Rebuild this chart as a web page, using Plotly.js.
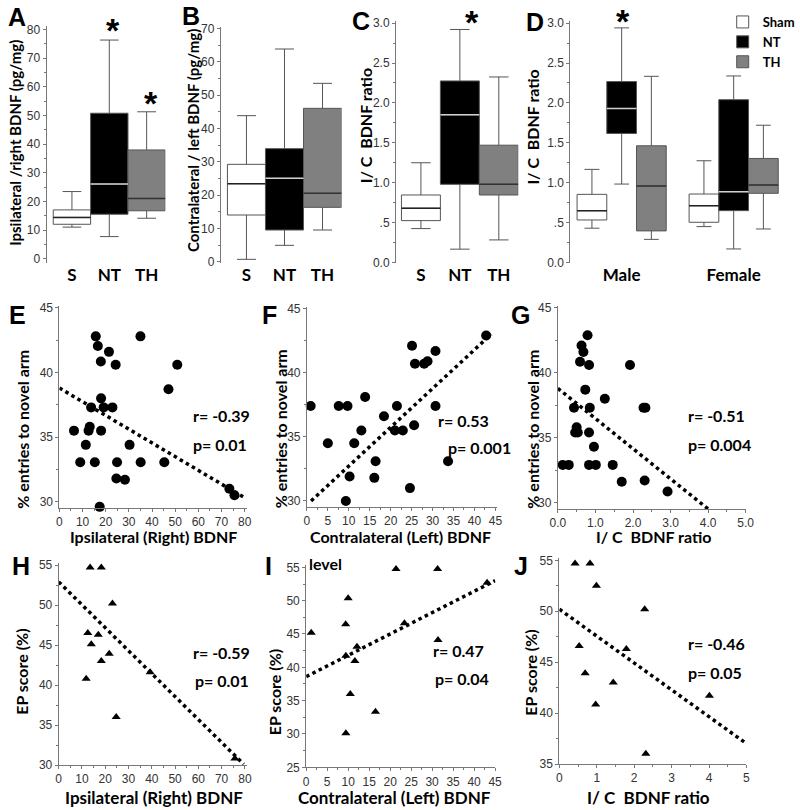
<!DOCTYPE html>
<html><head><meta charset="utf-8">
<script src="https://cdn.plot.ly/plotly-3.0.1.min.js"></script>
<style>html,body{margin:0;padding:0;background:#fff}#chart{width:800px;height:810px}</style>
</head><body><div id="chart"></div>
<script>
// ---------------- DATA ----------------
const boxCategories = ["S", "NT", "TH"];
// Panel A: Ipsilateral / right BDNF (pg/mg)
const A_lower  = [11.1, 7.8, 14.2];
const A_q1     = [12.1, 15.6, 16.8];
const A_median = [14.5, 26.1, 21.1];
const A_q3     = [17.1, 50.8, 38.0];
const A_upper  = [23.5, 76.3, 51.3];
// Panel B: Contralateral / left BDNF (pg/mg)
const B_lower  = [0.7, 4.9, 9.5];
const B_q1     = [14.0, 9.5, 16.3];
const B_median = [23.4, 25.0, 20.5];
const B_q3     = [29.2, 33.9, 46.0];
const B_upper  = [43.8, 63.8, 53.5];
// Panel C: I/C BDNF ratio
const C_lower  = [0.425, 0.167, 0.283];
const C_q1     = [0.525, 0.98, 0.846];
const C_median = [0.68, 1.85, 0.98];
const C_q3     = [0.846, 2.275, 1.47];
const C_upper  = [1.25, 2.92, 2.325];
// Panel D: I/C BDNF ratio by sex
const D_groups = ["Male", "Female"];
const D_series = ["Sham", "NT", "TH"];
const D_sham_lower = [0.43, 0.45],  D_sham_q1 = [0.533, 0.504], D_sham_median = [0.65, 0.7125], D_sham_q3 = [0.854, 0.858], D_sham_upper = [1.167, 1.275];
const D_nt_lower   = [0.983, 0.17], D_nt_q1   = [1.617, 0.65],  D_nt_median   = [1.93, 0.8875], D_nt_q3   = [2.267, 2.04],  D_nt_upper   = [2.94, 2.3375];
const D_th_lower   = [0.29, 0.42],  D_th_q1   = [0.396, 0.867], D_th_median   = [0.958, 0.97],  D_th_q3   = [1.4625, 1.304], D_th_upper  = [2.333, 1.72];

// Panel E: % entries to novel arm vs Ipsilateral (Right) BDNF
const E_x = [15.7,16.6,21.4,17.9,24.3,35,50.9,47.1,18,13.7,19.1,22.9,6.3,12.6,13.1,18,11.4,30.3,9,15.3,24.9,35.1,45.3,24.6,28.3,73.4,75.6,17.4];
const E_y = [42.8,42.05,41.6,40.85,40.6,42.8,40.6,38.7,38.0,37.3,37.3,37.3,35.5,35.5,35.8,35.5,34.4,34.4,33.05,33.05,33.05,33.05,33.05,31.8,31.7,31.0,30.5,29.6];
const E_fit_x = [0, 80], E_fit_y = [38.8, 30.3];
// Panel F: vs Contralateral (Left) BDNF
const F_x = [0.9,5.0,7.6,9.7,13.9,13.0,11.3,10.2,9.3,16.4,16.1,18.4,21.5,21.0,22.9,25.6,24.6,25.1,25.8,28.0,28.8,30.7,30.7,33.7,42.8];
const F_y = [37.4,34.5,37.4,37.4,38.1,35.5,34.5,31.9,30.0,33.1,31.8,36.6,37.4,35.5,35.5,35.9,31.0,42.1,40.7,40.7,40.9,41.7,37.4,33.1,42.9];
const F_fit_x = [1, 44], F_fit_y = [30.0, 43.0];
// Panel G: vs I/C BDNF ratio
const G_x = [0.79,0.63,0.68,0.59,0.83,1.92,0.73,1.25,0.43,0.85,2.28,2.33,0.5,0.46,0.53,0.83,0.96,0.13,0.29,0.83,1.01,1.46,1.70,2.31,2.92];
const G_y = [42.9,42.1,41.6,40.85,40.6,40.6,38.7,38.0,37.3,37.3,37.3,37.3,35.8,35.4,35.4,35.4,34.3,32.9,32.9,32.9,32.9,32.9,31.6,31.7,30.85];
const G_fit_x = [0, 4.0], G_fit_y = [38.8, 29.5];
// Panel H: EP score (%) vs Ipsilateral (Right) BDNF
const H_x = [13.5,18.3,23.1,12.5,17.0,14.0,21.7,18.3,11.8,24.7,39.3,75.7];
const H_y = [54.7,54.7,50.2,46.5,46.3,45.1,43.9,43.0,40.8,36.0,41.6,30.8];
const H_fit_x = [0, 79.5], H_fit_y = [52.9, 30.1];
// Panel I: EP score (%) vs Contralateral (Left) BDNF
const I_x = [1.2,9.4,10.0,9.45,12.1,11.6,10.5,9.45,16.5,21.4,31.3,23.4,31.4,43.1];
const I_y = [45.2,46.45,50.35,41.75,43.1,40.95,36.0,30.1,33.35,54.75,54.75,46.6,44.1,52.7];
const I_fit_x = [0, 45], I_fit_y = [38.6, 53.0];
// Panel J: EP score (%) vs I/C BDNF ratio
const J_x = [0.42,0.82,0.99,2.28,0.53,1.79,0.69,1.44,0.97,4.01,2.31];
const J_y = [54.7,54.7,52.5,50.2,46.6,46.3,43.9,43.0,40.85,41.7,36.0];
const J_fit_x = [0, 5], J_fit_y = [50.2, 37.0];

// ---------------- HELPERS ----------------
const W = 800, H = 810;
const px = x => x / W, py = y => 1 - y / H;
const fills = ['#ffffff', '#000000', '#808080'];
const medColors = ['#222222', '#d0d0d0', '#333333'];
const whisker = '#555555';
const tickFont = {family: 'Liberation Sans, Arial, sans-serif', size: 12, color: '#333'};
const boldFam = 'Lato, "Open Sans", sans-serif';
const traces = [];

function addBoxes(n, positions, stats, names, showLegend) {
  stats.forEach((s, k) => {
    traces.push({
      type: 'box', xaxis: 'x' + n, yaxis: 'y' + n, name: names[k],
      x: positions[k], lowerfence: s.lo, q1: s.q1, median: s.med, q3: s.q3, upperfence: s.hi,
      width: 1, whiskerwidth: 0.5, fillcolor: fills[k],
      line: {color: whisker, width: 1}, boxpoints: false, hoverinfo: 'skip',
      showlegend: showLegend, legendgroup: names[k]
    });
  });
  stats.forEach((s, k) => {
    const mx = [], my = [];
    positions[k].forEach((p, i) => { mx.push(p - 0.5, p + 0.5, null); my.push(s.med[i], s.med[i], null); });
    traces.push({type: 'scatter', mode: 'lines', xaxis: 'x' + n, yaxis: 'y' + n, x: mx, y: my,
      line: {color: medColors[k], width: 1.5}, showlegend: false, hoverinfo: 'skip'});
  });
}

function addScatter(n, xs, ys, fx, fy, symbol, size) {
  traces.push({type: 'scatter', mode: 'lines', xaxis: 'x' + n, yaxis: 'y' + n, x: fx, y: fy,
    line: {color: '#000', width: 3.5, dash: 'dot'}, showlegend: false, hoverinfo: 'skip'});
  traces.push({type: 'scatter', mode: 'markers', xaxis: 'x' + n, yaxis: 'y' + n, x: xs, y: ys,
    marker: {symbol: symbol, size: size, color: '#000'}, showlegend: false, hoverinfo: 'skip', cliponaxis: false});
}

const idx3 = [[0], [1], [2]];
addBoxes('', idx3, [0,1,2].map(i => ({lo:[A_lower[i]], q1:[A_q1[i]], med:[A_median[i]], q3:[A_q3[i]], hi:[A_upper[i]]})), boxCategories, false);
addBoxes('2', idx3, [0,1,2].map(i => ({lo:[B_lower[i]], q1:[B_q1[i]], med:[B_median[i]], q3:[B_q3[i]], hi:[B_upper[i]]})), boxCategories, false);
addBoxes('3', idx3, [0,1,2].map(i => ({lo:[C_lower[i]], q1:[C_q1[i]], med:[C_median[i]], q3:[C_q3[i]], hi:[C_upper[i]]})), boxCategories, false);
const groupCenters = [1, 4.77];
const dPos = [0,1,2].map(k => groupCenters.map(c => c + (k - 1)));
addBoxes('4', dPos, [
  {lo: D_sham_lower, q1: D_sham_q1, med: D_sham_median, q3: D_sham_q3, hi: D_sham_upper},
  {lo: D_nt_lower,   q1: D_nt_q1,   med: D_nt_median,   q3: D_nt_q3,   hi: D_nt_upper},
  {lo: D_th_lower,   q1: D_th_q1,   med: D_th_median,   q3: D_th_q3,   hi: D_th_upper}
], D_series, true);

addScatter('5', E_x, E_y, E_fit_x, E_fit_y, 'circle', 10);
addScatter('6', F_x, F_y, F_fit_x, F_fit_y, 'circle', 10);
addScatter('7', G_x, G_y, G_fit_x, G_fit_y, 'circle', 10);
addScatter('8', H_x, H_y, H_fit_x, H_fit_y, 'triangle-up', 8);
addScatter('9', I_x, I_y, I_fit_x, I_fit_y, 'triangle-up', 8);
addScatter('10', J_x, J_y, J_fit_x, J_fit_y, 'triangle-up', 8);

// ---------------- AXES ----------------
function yAx(anchor, dom, range, dtick, extra) {
  return Object.assign({anchor: anchor, domain: [py(dom[1]), py(dom[0])], range: range,
    showline: true, linecolor: '#777', linewidth: 1, ticks: 'outside', ticklen: 3, tickcolor: '#777',
    tick0: 0, dtick: dtick, showgrid: false, zeroline: false, tickfont: tickFont,
    minor: {ticks: 'outside', ticklen: 2, tickcolor: '#777', dtick: dtick / 2, tick0: 0, showgrid: false}}, extra || {});
}
function xBoxAx(anchor, dom, range, vals, text) {
  return {anchor: anchor, domain: [px(dom[0]), px(dom[1])], range: range, tickvals: vals, ticktext: text,
    ticks: '', showline: false, showgrid: false, zeroline: false,
    tickfont: {family: boldFam, size: 17, weight: 'bold', color: '#000'}};
}
function xSc(anchor, dom, range, dtick, extra) {
  return Object.assign({anchor: anchor, domain: [px(dom[0]), px(dom[1])], range: range,
    showline: true, linecolor: '#777', linewidth: 1, ticks: 'outside', ticklen: 3, tickcolor: '#777',
    tick0: 0, dtick: dtick, showgrid: false, zeroline: false, tickfont: tickFont,
    minor: {ticks: 'outside', ticklen: 2, tickcolor: '#777', dtick: dtick / 2, tick0: 0, showgrid: false}}, extra || {});
}
const ratioTicks = {tickvals: [0, 0.5, 1, 1.5, 2, 2.5, 3], ticktext: ['0.0', '.5', '1.0', '1.5', '2.0', '2.5', '3.0']};

const layout = {
  width: W, height: H, margin: {l: 0, r: 0, t: 0, b: 0},
  paper_bgcolor: '#fff', plot_bgcolor: 'rgba(0,0,0,0)',
  boxmode: 'overlay', showlegend: true,
  legend: {x: px(730), y: py(7), xanchor: 'left', yanchor: 'top', bgcolor: 'rgba(0,0,0,0)',
    font: {family: boldFam, size: 13, weight: 'bold', color: '#000'}, tracegroupgap: 0},
  xaxis:  xBoxAx('y',  [47, 167],  [-0.68, 2.5], [0, 1, 2], boxCategories),
  yaxis:  yAx('x',  [26, 263],   [-1.4, 81.2], 10),
  xaxis2: xBoxAx('y2', [223, 345], [-0.675, 2.5], [0, 1, 2], boxCategories),
  yaxis2: yAx('x2', [27, 263],   [-0.4, 70.4], 10),
  xaxis3: xBoxAx('y3', [400, 523.5], [-0.64, 2.5], [0, 1, 2], boxCategories),
  yaxis3: yAx('x3', [20.7, 263.3], [-0.01, 3.03], 0.5, ratioTicks),
  xaxis4: xBoxAx('y4', [576, 787], [-0.73, 6.3], groupCenters, D_groups),
  yaxis4: yAx('x4', [20.7, 263.3], [-0.01, 3.03], 0.5, ratioTicks),
  xaxis5: xSc('y5', [60, 249], [0, 80.8], 10),
  yaxis5: yAx('x5', [306, 507.5], [29.55, 45.15], 5),
  xaxis6: xSc('y6', [310, 502.5], [0, 45.5], 5),
  yaxis6: yAx('x6', [306.7, 506.7], [29.55, 45.15], 5),
  xaxis7: xSc('y7', [563.5, 754], [0, 5.02], 1, {tickformat: '.1f'}),
  yaxis7: yAx('x7', [306, 509], [29.5, 45.15], 5),
  xaxis8: xSc('y8', [59.3, 249], [0, 80.7], 10),
  yaxis8: yAx('x8', [562.7, 765], [30, 55.3], 5),
  xaxis9: xSc('y9', [309.3, 500.5], [0, 45.1], 5),
  yaxis9: yAx('x9', [565, 767.3], [25, 55.35], 5),
  xaxis10: xSc('y10', [565, 754], [0, 5], 1),
  yaxis10: yAx('x10', [558.3, 764], [35, 55.2], 5),
  annotations: []
};

function ann(text, x, y, o) {
  layout.annotations.push(Object.assign({text: text, x: px(x), y: py(y), xref: 'paper', yref: 'paper',
    showarrow: false, xanchor: 'center', yanchor: 'middle',
    font: {family: boldFam, size: 16, weight: 'bold', color: '#000'}}, o || {}));
}
const letterFont = {family: 'Liberation Sans, Arial, sans-serif', size: 25, weight: 'bold', color: '#000'};
[['A', 17, 17], ['B', 193, 16], ['C', 365, 21], ['D', 540, 22], ['E', 18, 315], ['F', 272, 315], ['G', 526, 315],
 ['H', 21, 566], ['I', 271, 566], ['J', 526, 566]].forEach(l => ann(l[0], l[1], l[2], {font: letterFont}));

const starFont = {family: 'Liberation Sans, Arial, sans-serif', size: 34, weight: 'bold', color: '#000'};
[[114, 30], [153, 103], [477, 22], [629, 21]].forEach(s => ann('*', s[0], s[1], {font: starFont}));

const f15 = {family: boldFam, size: 15, weight: 'bold', color: '#000'};
const f17 = {family: boldFam, size: 17, weight: 'bold', color: '#000'};
// y titles
ann('Ipsilateral /right BDNF (pg/mg)', 15, 143, {textangle: -90, font: f15});
ann('Contralateral / left BDNF (pg/mg)', 195, 141, {textangle: -90, font: f15});
ann('I/ C  BDNF ratio', 369, 126, {textangle: -90});
ann('I/ C  BDNF ratio', 538, 127, {textangle: -90});
ann('% entries to novel arm', 22, 429, {textangle: -90});
ann('% entries to novel arm', 283, 429, {textangle: -90});
ann('% entries to novel arm', 537, 429, {textangle: -90});
ann('EP score (%)', 21, 672, {textangle: -90});
ann('EP score (%)', 277, 692, {textangle: -90});
ann('EP score (%)', 535, 673, {textangle: -90});
// x titles
ann('Ipsilateral (Right) BDNF', 155, 536);
ann('Contralateral (Left) BDNF', 405, 536);
ann('I/ C  BDNF ratio', 660, 536);
ann('Ipsilateral (Right) BDNF', 156, 797, {font: f17});
ann('Contralateral (Left) BDNF', 398, 797, {font: f17});
ann('I/ C  BDNF ratio', 655, 797, {font: f17});
ann('level', 310, 563, {xanchor: 'left'});
// stats
ann('r= -0.39', 193, 415, {xanchor: 'left'});
ann('p= 0.01', 193, 444, {xanchor: 'left'});
ann('r= 0.53', 440, 420, {xanchor: 'left'});
ann('p= 0.001', 450, 448, {xanchor: 'left'});
ann('r= -0.51', 693, 415, {xanchor: 'left'});
ann('p= 0.004', 693, 444, {xanchor: 'left'});
ann('r= -0.59', 193, 652, {xanchor: 'left'});
ann('p= 0.01', 195, 680, {xanchor: 'left'});
ann('r= 0.47', 435, 650, {xanchor: 'left'});
ann('p= 0.04', 437, 678, {xanchor: 'left'});
ann('r= -0.46', 693, 643, {xanchor: 'left'});
ann('p= 0.05', 693, 672, {xanchor: 'left'});

Plotly.newPlot('chart', traces, layout, {staticPlot: true, displayModeBar: false});
</script></body></html>
